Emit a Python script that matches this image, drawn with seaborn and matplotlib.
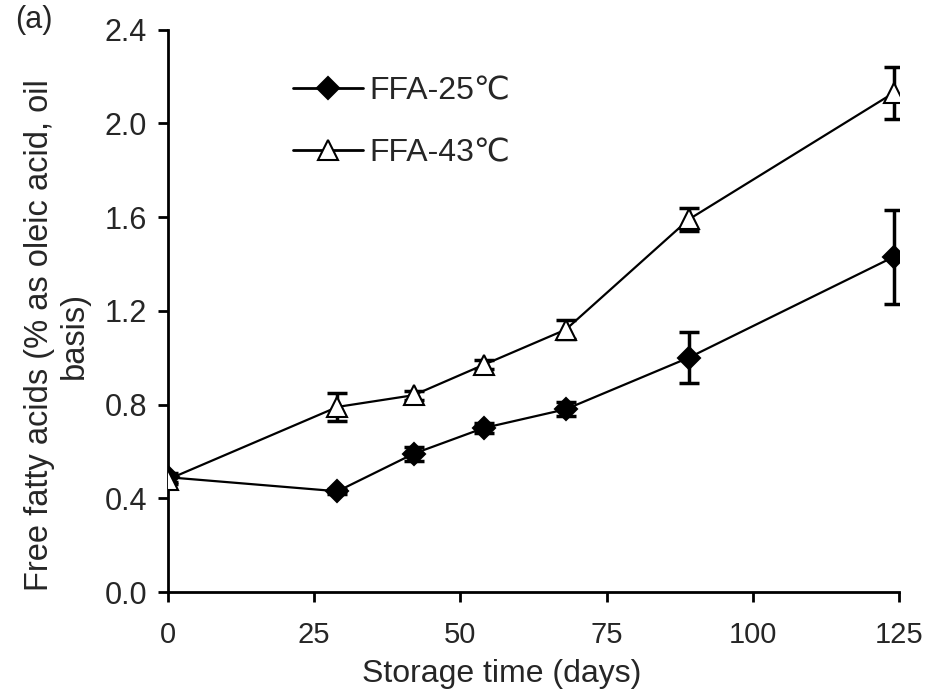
import numpy as np
import pandas as pd
import matplotlib
matplotlib.use("Agg")
import matplotlib.pyplot as plt
import seaborn as sns

sns.set_style("ticks")
plt.rcParams['font.family'] = ['Liberation Sans', 'DejaVu Sans']

# storage days and free fatty acid readings
days = [0, 29, 42, 54, 68, 89, 124]
ffa_25 = [0.49, 0.43, 0.59, 0.70, 0.78, 1.00, 1.43]
err_25 = [0.02, 0.01, 0.03, 0.02, 0.03, 0.11, 0.20]
ffa_43 = [0.48, 0.79, 0.84, 0.97, 1.12, 1.59, 2.13]
err_43 = [0.02, 0.06, 0.02, 0.02, 0.04, 0.05, 0.11]

labels = ["FFA-25\u2103", "FFA-43\u2103"]

df = pd.DataFrame({
    "days": days * 2,
    "ffa": ffa_25 + ffa_43,
    "series": [labels[0]] * len(days) + [labels[1]] * len(days),
})

fig, ax = plt.subplots(figsize=(9.32, 6.9), dpi=100)
fig.subplots_adjust(left=0.180, right=0.965, bottom=0.142, top=0.957)

# error bars first so markers sit on top
ax.errorbar(days, ffa_25, yerr=err_25, fmt="none", ecolor="black",
            elinewidth=2.5, capsize=7, capthick=2.5, zorder=2)
ax.errorbar(days, ffa_43, yerr=err_43, fmt="none", ecolor="black",
            elinewidth=2.5, capsize=7, capthick=2.5, zorder=2)

sns.lineplot(data=df, x="days", y="ffa", hue="series", style="series",
             palette=["black", "black"], markers={labels[0]: "D", labels[1]: "^"},
             dashes=False, linewidth=1.6, ax=ax, zorder=3,
             markersize=11, markeredgewidth=1.5)

# open triangles for the 43C series
for line in ax.lines:
    if line.get_marker() == "^":
        line.set_markerfacecolor("white")
        line.set_markeredgecolor("black")
        line.set_markersize(14)
    elif line.get_marker() == "D":
        line.set_markerfacecolor("black")
        line.set_markeredgecolor("black")

ax.set_xlim(0, 125)
ax.set_ylim(0, 2.4)
ax.set_xticks([0, 25, 50, 75, 100, 125])
ax.set_yticks(np.arange(0, 2.41, 0.4))
ax.set_yticklabels([f"{v:.1f}" for v in np.arange(0, 2.41, 0.4)])
ax.tick_params(axis="both", width=2, length=7, color="black")
ax.tick_params(axis="x", pad=14, labelsize=21)
ax.tick_params(axis="y", pad=8, labelsize=22)
ax.set_xlabel("Storage time (days)", fontsize=23)
ax.xaxis.set_label_coords(0.457, -0.119)
ax.set_ylabel("Free fatty acids (% as oleic acid, oil\nbasis)", fontsize=23.5,
              linespacing=1.15)
ax.yaxis.set_label_coords(-0.107, 0.456)
sns.despine(ax=ax)
for s in ["left", "bottom"]:
    ax.spines[s].set_linewidth(2)
    ax.spines[s].set_color("black")

leg = ax.legend(frameon=False, fontsize=23, loc="upper left",
                bbox_to_anchor=(0.132, 0.968), handlelength=2.2, labelspacing=1.0,
                handletextpad=0.2, markerscale=1.0)
for h in leg.legend_handles:
    h.set_color("black")
    h.set_markeredgecolor("black")
leg.legend_handles[0].set_markerfacecolor("black")
leg.legend_handles[1].set_markerfacecolor("white")
leg.legend_handles[0].set_linewidth(2)
leg.legend_handles[1].set_linewidth(2)

fig.text(0.016, 0.993, "(a)", fontsize=22, va="top")

fig.savefig("out.png", dpi=100)
